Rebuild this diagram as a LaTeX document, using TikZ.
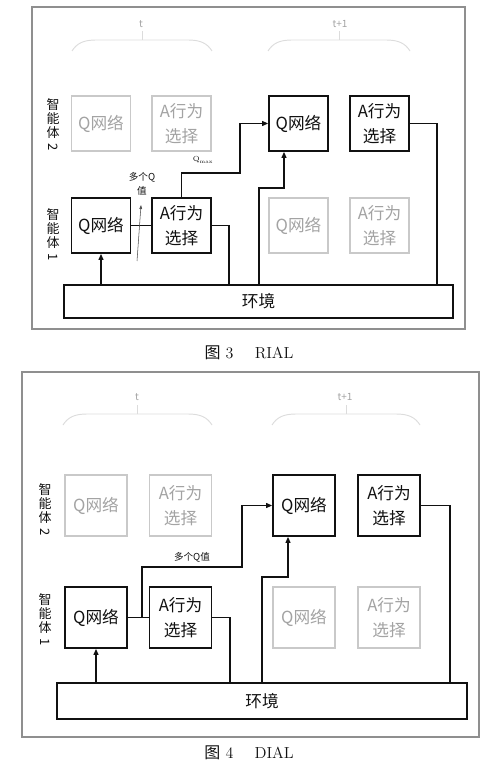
\documentclass[tikz,border=0pt]{standalone}
\usepackage{fontspec}
\usepackage{graphicx}
\newfontfamily\cjk{Noto Sans CJK SC}
\usetikzlibrary{arrows.meta,calc}
\definecolor{FigInk}{HTML}{111111}
\definecolor{FigGhost}{HTML}{C9C9C9}
\definecolor{FigGhostText}{HTML}{A3A3A3}
\definecolor{FigBrace}{HTML}{DCDCDC}
\definecolor{FigFrame}{HTML}{8F8F8F}
\tikzset{
  every node/.style={font=\cjk, text=FigInk, inner sep=0pt},
  unit/.style={draw=FigInk, line width=1.2pt, align=center, font=\cjk\fontsize{12.5}{18.5}\selectfont},
  ghost/.style={unit, draw=FigGhost, line width=0.9pt, text=FigGhostText},
  small/.style={minimum width=44.25pt, minimum height=41.25pt},
  large/.style={minimum width=46.5pt, minimum height=45.75pt},
  envbox/.style={draw=FigInk, line width=1.2pt, font=\cjk\fontsize{12.5}{14}\selectfont},
  link/.style={draw=FigInk, line width=1pt},
  feed/.style={link, -{Triangle[length=4.5pt,width=3.6pt]}},
  agentlabel/.style={align=center, font=\cjk\fontsize{9.75}{10.5}\selectfont},
  steplabel/.style={font=\cjk\fontsize{7.5}{8}\selectfont, text=FigGhostText},
  notelabel/.style={align=center, font=\cjk\fontsize{7.2}{11}\selectfont},
  frame/.style={draw=FigFrame, line width=0.8pt},
  caption/.style={font=\fontsize{12}{14}\selectfont},
}
% bracket over one time step: left x, right x, top y
\newcommand{\stepbrace}[3]{%
  \draw[FigBrace, line width=0.7pt] (#1,#3+11) .. controls (#1+5,#3+3) and (#1+12,#3) .. (#1+24,#3)
    -- (#2-24,#3) .. controls (#2-12,#3) and (#2-5,#3+3) .. (#2,#3+11);
  \draw[FigBrace, line width=0.7pt] ({(#1+#2)/2},#3) -- ++(0,-9);
}
% upright digit in vertical text
\newcommand{\vdigit}[1]{\rotatebox[origin=c]{-90}{#1}}
\begin{document}
\begin{tikzpicture}[x=0.75pt,y=-0.75pt]
  \useasboundingbox (0,0) rectangle (498,766);
  % ---------------- Fig. 3: RIAL ----------------
  \draw[frame] (32,7) rectangle (465,329);
  \node[steplabel] (rT) at (141,24) {t};
  \node[steplabel] (rTn) at (340,24) {t+1};
  \stepbrace{72}{212}{40}
  \stepbrace{268}{410}{40}
  % agent labels
  \node[agentlabel] (rAgentB) at (53,125) {智\\能\\体\\\vdigit{2}};
  \node[agentlabel] (rAgentA) at (53,235) {智\\能\\体\\\vdigit{1}};
  % units of agent 2 (top) and agent 1 (bottom)
  \node[ghost, small] (rQ2t) at (101,123.5) {Q网络};
  \node[ghost, small] (rA2t) at (181.5,123.5) {A行为\\选择};
  \node[unit, small] (rQ2) at (298.5,123.5) {Q网络};
  \node[unit, small] (rA2) at (379.5,123.5) {A行为\\选择};
  \node[unit, small] (rQ1) at (101,225.5) {Q网络};
  \node[unit, small] (rA1) at (181.5,225.5) {A行为\\选择};
  \node[ghost, small] (rQ1n) at (298.5,225.5) {Q网络};
  \node[ghost, small] (rA1n) at (379.5,225.5) {A行为\\选择};
  \node[envbox, minimum width=291.75pt, minimum height=24.75pt] (rEnv) at (258.5,301.5) {环境};
  % connectors
  \coordinate (rOut1) at (229,285);
  \coordinate (rBend1) at (240,173);
  \coordinate (rIn2) at (259,285);
  \coordinate (rBend2) at (284,188);
  \coordinate (rOut2) at (437,285);
  \draw[link] (rQ1) -- (rA1);
  \draw[link] (rA1.east) -| (rOut1);
  \draw[feed] (rQ1.south |- rEnv.north) -- (rQ1.south);
  \draw[feed] (rA1.north) |- (rBend1) |- (rQ2.west);
  \draw[feed] (rIn2) |- (rBend2) -- (rBend2 |- rQ2.south);
  \draw[link] (rA2.east) -| (rOut2);
  % Q-value note
  \coordinate (rTail) at (137,261);
  \coordinate (rTip) at (141,205);
  \draw[FigInk!75, line width=0.4pt, -{Triangle[length=3pt,width=2pt]}] (rTail) -- (rTip);
  \node[notelabel] (rMulti) at (142,184) {多个Q\\值};
  \node[font=\fontsize{5.5}{6}\selectfont] (rQmax) at (203,160) {Q$_{\mathrm{max}}$};
  \node[caption] (rCap) at (249,353) {{\cjk 图}\ 3\quad\ RIAL};
  % ---------------- Fig. 4: DIAL ----------------
  \draw[frame] (22,372) rectangle (479,737);
  \node[steplabel] (dT) at (137,397) {t};
  \node[steplabel] (dTn) at (345,397) {t+1};
  \stepbrace{63}{212}{414}
  \stepbrace{272}{420}{414}
  \node[agentlabel] (dAgentB) at (45,510) {智\\能\\体\\\vdigit{2}};
  \node[agentlabel] (dAgentA) at (45,620) {智\\能\\体\\\vdigit{1}};
  \node[ghost, large] (dQ2t) at (96,505.5) {Q网络};
  \node[ghost, large] (dA2t) at (180.5,505.5) {A行为\\选择};
  \node[unit, large] (dQ2) at (304,505.5) {Q网络};
  \node[unit, large] (dA2) at (389,505.5) {A行为\\选择};
  \node[unit, large] (dQ1) at (96,617.5) {Q网络};
  \node[unit, large] (dA1) at (180.5,617.5) {A行为\\选择};
  \node[ghost, large] (dQ1n) at (304,617.5) {Q网络};
  \node[ghost, large] (dA1n) at (389,617.5) {A行为\\选择};
  \node[envbox, minimum width=307.5pt, minimum height=27pt] (dEnv) at (262,701) {环境};
  % connectors
  \coordinate (dSplit) at (142,617.5);
  \coordinate (dBend1) at (242,567);
  \coordinate (dOut1) at (230,683);
  \coordinate (dIn2) at (262,683);
  \coordinate (dBend2) at (288,577);
  \coordinate (dOut2) at (450,683);
  \draw[link] (dQ1) -- (dA1);
  \draw[feed] (dSplit) |- (dBend1) |- (dQ2.west);
  \node[notelabel] (dMulti) at (192,557) {多个Q值};
  \draw[link] (dA1.east) -| (dOut1);
  \draw[feed] (dQ1.south |- dEnv.north) -- (dQ1.south);
  \draw[feed] (dIn2) |- (dBend2) -- (dBend2 |- dQ2.south);
  \draw[link] (dA2.east) -| (dOut2);
  \node[caption] (dCap) at (249,753) {{\cjk 图}\ 4\quad\ DIAL};
\end{tikzpicture}
\end{document}
